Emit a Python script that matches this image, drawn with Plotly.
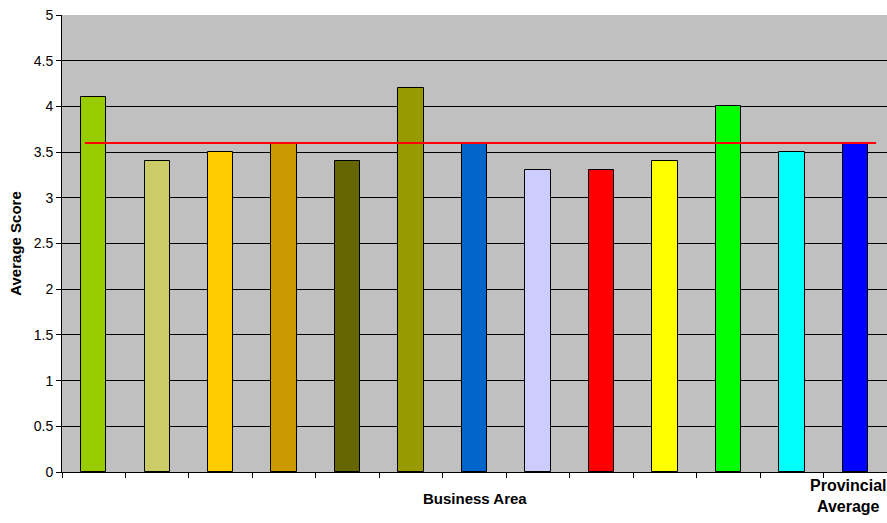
import plotly.graph_objects as go

# Data
categories = ["", "", "", "", "", "", "", "", "", "", "", "", "Provincial<br>Average"]
scores = [4.1, 3.4, 3.5, 3.6, 3.4, 4.2, 3.6, 3.3, 3.3, 3.4, 4.0, 3.5, 3.6]
bar_colors = ["#99CC00", "#CCCC66", "#FFCC00", "#CC9900", "#666600", "#999900",
              "#0066CC", "#CCCCFF", "#FF0000", "#FFFF00", "#00FF00", "#00FFFF", "#0000FF"]
provincial_avg = 3.6
y_ticks = [0, 0.5, 1, 1.5, 2, 2.5, 3, 3.5, 4, 4.5, 5]

n = len(scores)
xpos = list(range(n))

fig = go.Figure()
fig.add_trace(go.Bar(
    x=xpos, y=scores, width=0.4,
    marker=dict(color=bar_colors, line=dict(color="#000000", width=1)),
    showlegend=False, hoverinfo="y",
))
# Provincial average line
fig.add_trace(go.Scatter(
    x=[-0.14, n - 1 + 0.33], y=[provincial_avg, provincial_avg],
    mode="lines", line=dict(color="#FF0000", width=2),
    showlegend=False, hoverinfo="skip",
))

fig.update_layout(
    width=887, height=523,
    margin=dict(l=62, r=0, t=15, b=51),
    paper_bgcolor="white",
    plot_bgcolor="#C0C0C0",
    font=dict(family="Arial, Liberation Sans, sans-serif", size=14, color="black"),
    bargap=0,
)
fig.update_xaxes(
    range=[-0.5, n - 0.5],
    tickvals=[i - 0.5 for i in range(n + 1)],
    ticktext=["" for _ in range(n + 1)],
    ticks="outside", ticklen=5, tickcolor="black",
    showgrid=False, zeroline=False,
    showline=True, linecolor="black", linewidth=1,
)
fig.update_yaxes(
    range=[0, 5],
    tickvals=y_ticks,
    ticktext=[str(v) for v in y_ticks],
    ticks="outside", ticklen=5, tickcolor="black",
    showgrid=True, gridcolor="#000000", gridwidth=1,
    zeroline=False,
    showline=True, linecolor="black", linewidth=1,
    tickfont=dict(size=14),
    title=dict(text="<b>Average Score</b>", font=dict(size=15), standoff=8),
)

fig.add_annotation(
    x=0.5, xref="paper", y=-0.034, yref="paper", yanchor="top",
    text="<b>Business Area</b>", showarrow=False, font=dict(size=15),
)
fig.add_annotation(
    x=1, xref="paper", xanchor="right", y=-0.008, yref="paper", yanchor="top",
    text="<b>" + categories[-1] + "</b>", showarrow=False,
    font=dict(size=16), align="center", borderpad=0,
)

fig.write_html("out.html")
